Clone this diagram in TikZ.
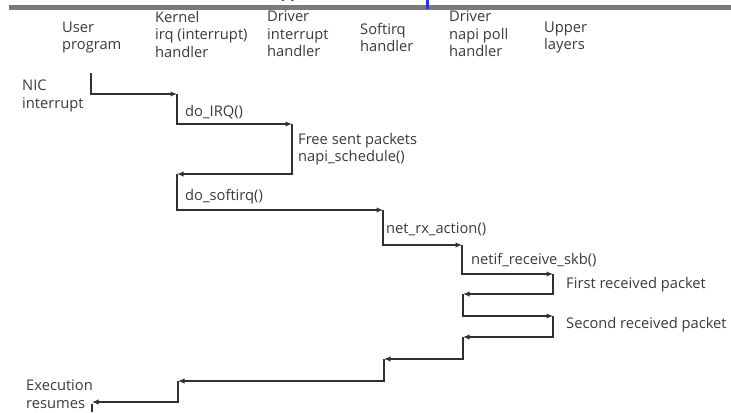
\documentclass[tikz,border=0pt]{standalone}
\usepackage{fontspec}
\setmainfont{Open Sans}
\usetikzlibrary{arrows.meta}
\definecolor{txt}{HTML}{3A3A3A}
\definecolor{ln}{HTML}{303030}
\definecolor{bar}{HTML}{7A7A7A}
\definecolor{ttl}{HTML}{2A35D0}
\begin{document}
\begin{tikzpicture}[x=1bp,y=-1bp,
  lbl/.style={anchor=west,inner sep=0pt,text=txt,align=left,
    font=\fontsize{14.7bp}{17.5bp}\selectfont},
  flow/.style={draw=ln,line width=1.3bp,-{Latex[length=6.5bp,width=5.5bp]}},
  stub/.style={draw=ln,line width=1.3bp}]
\useasboundingbox (0,0) rectangle (731,412);
% top bar and cut-off title fragments
\fill[bar] (9,5) rectangle (731,9.5);
\draw[ttl,line width=3bp] (282,0.5) arc[start angle=200,end angle=340,radius=6];
\draw[ttl,line width=3bp] (427,0) -- (427,9);
% column headers
\node[lbl] (hUser)  at (62,37.5)  {User\\program};
\node[lbl] (hKern)  at (155,34)   {Kernel\\irq (interrupt)\\handler};
\node[lbl] (hDrv)   at (267,34)   {Driver\\interrupt\\handler};
\node[lbl] (hSoft)  at (360,37.5) {Softirq\\handler};
\node[lbl] (hNapi)  at (449,34)   {Driver\\napi poll\\handler};
\node[lbl] (hUp)    at (544,37.5) {Upper\\layers};
% side labels
\node[lbl] (nic)  at (22,96)  {NIC\\interrupt};
\node[lbl] (exe)  at (26,394) {Execution\\resumes};
% step labels
\node[lbl] (irq)   at (185,112) {do\_IRQ()};
\node[lbl] (free)  at (298,149) {Free sent packets\\napi\_schedule()};
\node[lbl] (soft)  at (185,197) {do\_softirq()};
\node[lbl] (rx)    at (386,229) {net\_rx\_action()};
\node[lbl] (recv)  at (471,260) {netif\_receive\_skb()};
\node[lbl] (pk1)   at (566,285) {First received packet};
\node[lbl] (pk2)   at (566,325) {Second received packet};
% turning points
\coordinate (p0)  at (91,73);
\coordinate (p1)  at (177,94);
\coordinate (p2)  at (292,124);
\coordinate (p3)  at (177,174);
\coordinate (p4)  at (383,210);
\coordinate (p5)  at (462,245);
\coordinate (p6)  at (553,274);
\coordinate (p7)  at (463,294);
\coordinate (p8)  at (553,316);
\coordinate (p9)  at (463,337);
\coordinate (p10) at (384,359);
\coordinate (p11) at (178,381);
\coordinate (p12) at (92,402);
\coordinate (p13) at (92,412);
% flow
\draw[flow] (p0) |- (p1);
\draw[flow] (p1) |- (p2);
\draw[flow] (p2) |- (p3);
\draw[flow] (p3) |- (p4);
\draw[flow] (p4) |- (p5);
\draw[flow] (p5) |- (p6);
\draw[flow] (p6) |- (p7);
\draw[flow] (p7) |- (p8);
\draw[flow] (p8) |- (p9);
\draw[flow] (p9) |- (p10);
\draw[flow] (p10) |- (p11);
\draw[flow] (p11) |- (p12);
\draw[stub] (p12) ++(0,2) -- (p13);
\end{tikzpicture}
\end{document}
